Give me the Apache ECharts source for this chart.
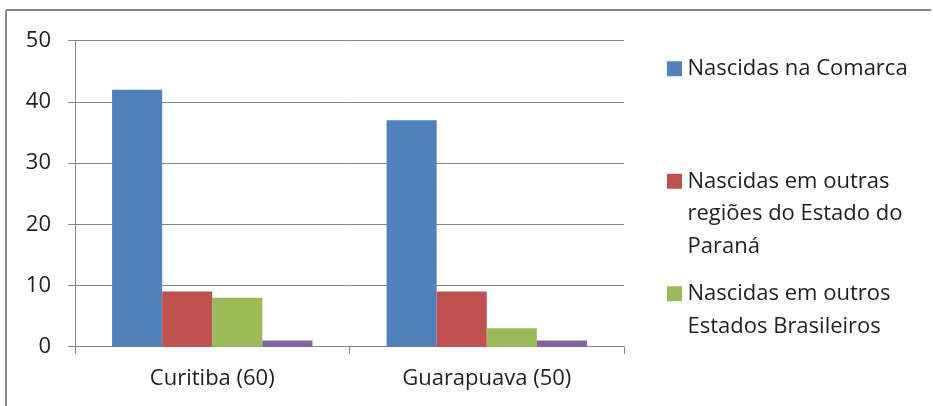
<!DOCTYPE html>
<html>
<head>
<meta charset="utf-8">
<script src="https://cdn.jsdelivr.net/npm/echarts@6/dist/echarts.min.js"></script>
<style>
  html, body { margin: 0; padding: 0; background: #fff; }
  #chart { width: 933px; height: 406px; }
</style>
</head>
<body>
<div id="chart"></div>
<script>
// Birthplace of residents, grouped by comarca
const categories = ['Curitiba (60)', 'Guarapuava (50)'];
const seriesNames = [
  'Nascidas na Comarca',
  'Nascidas em outras\nregiões do Estado do\nParaná',
  'Nascidas em outros\nEstados Brasileiros',
  'Outros'
];
const comarca = [42, 37];
const outrasRegioes = [9, 9];
const outrosEstados = [8, 3];
const outros = [1, 1];
const yTicks = [0, 10, 20, 30, 40, 50];

const colors = ['#4F81BD', '#C0504D', '#9BBB59', '#8064A2'];
const values = [comarca, outrasRegioes, outrosEstados, outros];
const font = 'Open Sans';
const textColor = '#1f1f1f';
const lineH = 32.5;
const box = 15;

// Legend entries: the swatch sits beside the first line of a wrapped label,
// so each entry gets an icon whose box is tall enough to keep the square on top.
const legendTops = [52.5, 165, 277.5];
function legendFor(i) {
  const lines = seriesNames[i].split('\n').length;
  const h = box + (lines - 1) * lineH;
  const icon = 'path://M0,0H' + box + 'V' + box + 'H0Z M0,' + h + 'L0.01,' + h;
  return {
    orient: 'vertical',
    left: 667,
    top: legendTops[i],
    padding: 0,
    itemWidth: box + 1,
    itemHeight: h,
    icon: icon,
    data: [seriesNames[i]],
    textStyle: { fontFamily: font, fontSize: 22, color: textColor, lineHeight: lineH }
  };
}

const chart = echarts.init(document.getElementById('chart'));
chart.setOption({
  animation: false,
  textStyle: { fontFamily: font },
  grid: { left: 75, right: 309, top: 40.7, bottom: 59.3 },
  graphic: [
    { type: 'line', shape: { x1: 6, y1: 10, x2: 931, y2: 10 }, style: { stroke: '#8a8a8a', lineWidth: 2 } },
    { type: 'line', shape: { x1: 6, y1: 10, x2: 6, y2: 406 }, style: { stroke: '#8a8a8a', lineWidth: 2 } }
  ],
  legend: [legendFor(0), legendFor(1), legendFor(2)],
  xAxis: {
    type: 'category',
    data: categories,
    axisLine: { lineStyle: { color: '#868686', width: 1 } },
    axisTick: { show: true, length: 7, lineStyle: { color: '#868686' } },
    axisLabel: { fontSize: 22, color: textColor, margin: 21, fontFamily: font }
  },
  yAxis: {
    type: 'value',
    min: 0,
    max: 50,
    interval: 10,
    axisLine: { show: true, lineStyle: { color: '#868686' } },
    axisTick: { show: true, length: 7, lineStyle: { color: '#868686' } },
    splitLine: { lineStyle: { color: '#868686', width: 1 } },
    axisLabel: {
      fontSize: 22, color: textColor, margin: 24, fontFamily: font,
      formatter: v => (yTicks.includes(v) ? String(v) : '')
    }
  },
  series: values.map((d, i) => ({
    name: seriesNames[i],
    type: 'bar',
    data: d,
    barGap: '0%',
    barCategoryGap: '27%',
    itemStyle: { color: colors[i] }
  }))
});
</script>
</body>
</html>
